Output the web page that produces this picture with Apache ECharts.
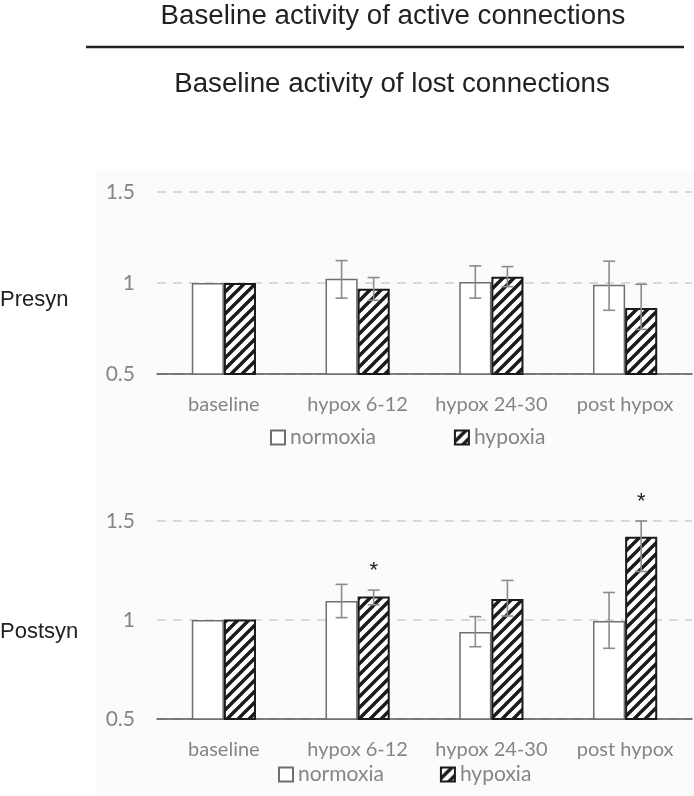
<!DOCTYPE html>
<html>
<head>
<meta charset="utf-8">
<script src="https://cdn.jsdelivr.net/npm/echarts@6/dist/echarts.min.js"></script>
<style>
html,body{margin:0;padding:0;background:#fff;}
#main{width:694px;height:796px;}
</style>
</head>
<body>
<div id="main"></div>
<script>
const categories = ['baseline', 'hypox 6-12', 'hypox 24-30', 'post hypox'];
const yTicks = [0.5, 1, 1.5];

const preNorm = [1, 1.024, 1.005, 0.99];
const preNormLow = [null, 0.917, 0.917, 0.85];
const preNormHigh = [null, 1.123, 1.094, 1.12];
const preHyp = [1, 0.969, 1.035, 0.862];
const preHypLow = [null, 0.905, 0.98, 0.745];
const preHypHigh = [null, 1.03, 1.09, 0.993];

const postNorm = [1, 1.096, 0.94, 0.995];
const postNormLow = [null, 1.012, 0.865, 0.857];
const postNormHigh = [null, 1.18, 1.017, 1.139];
const postHyp = [1.003, 1.119, 1.106, 1.42];
const postHypLow = [null, 1.077, 1.02, 1.245];
const postHypHigh = [null, 1.151, 1.20, 1.50];
const postHypStars = ['', '*', '', '*'];

const seriesNames = ['normoxia', 'hypoxia'];
const titleTop = 'Baseline activity of active connections';
const titleBottom = 'Baseline activity of lost connections';
const rowLabels = ['Presyn', 'Postsyn'];

// hatch pattern
const pc = document.createElement('canvas');
pc.width = 11; pc.height = 11;
const g = pc.getContext('2d');
g.fillStyle = '#ffffff'; g.fillRect(0, 0, 11, 11);
g.strokeStyle = '#1a1a1a'; g.lineWidth = 3.4; g.lineCap = 'square';
g.beginPath();
g.moveTo(-1, 12); g.lineTo(12, -1);
g.moveTo(-3, 3); g.lineTo(3, -3);
g.moveTo(8, 14); g.lineTo(14, 8);
g.stroke();
const hatch = { image: pc, repeat: 'repeat' };

const FONT = 'Lato';
const GRAY = '#858585';
const BARW = 0.24;

function errSeries(idx, lows, highs, side, stars) {
  const data = categories.map((c, i) => [i, lows[i], highs[i], stars ? stars[i] : '']);
  return {
    type: 'custom', xAxisIndex: idx, yAxisIndex: idx, z: 10, silent: true,
    renderItem: function (params, api) {
      const i = api.value(0);
      const lo = api.value(1), hi = api.value(2);
      const band = api.size([1, 0])[0];
      const children = [];
      const cx0 = api.coord([i, 1])[0] + side * band * BARW / 2;
      if (lo != null && !isNaN(lo) && hi != null && !isNaN(hi)) {
        const pLo = api.coord([i, lo]);
        const pHi = api.coord([i, hi]);
        const cap = 6;
        const st = { stroke: '#8c8c8c', lineWidth: 1.6 };
        children.push({ type: 'line', shape: { x1: cx0, y1: pLo[1], x2: cx0, y2: pHi[1] }, style: st });
        children.push({ type: 'line', shape: { x1: cx0 - cap, y1: pLo[1], x2: cx0 + cap, y2: pLo[1] }, style: st });
        children.push({ type: 'line', shape: { x1: cx0 - cap, y1: pHi[1], x2: cx0 + cap, y2: pHi[1] }, style: st });
        const s = data[params.dataIndex][3];
        if (s) {
          children.push({ type: 'text', style: { text: s, x: cx0, y: pHi[1] - 19, align: 'center', verticalAlign: 'middle', font: '22px "Liberation Sans"', fill: '#222' } });
        }
      }
      return { type: 'group', children: children };
    },
    data: data
  };
}

function barPair(idx, norm, hyp) {
  return [
    { name: seriesNames[0], type: 'bar', xAxisIndex: idx, yAxisIndex: idx, data: norm,
      barWidth: (BARW * 100) + '%', barGap: '0%',
      itemStyle: { color: '#ffffff', borderColor: '#6e6e6e', borderWidth: 1.5 } },
    { name: seriesNames[1], type: 'bar', xAxisIndex: idx, yAxisIndex: idx, data: hyp,
      barWidth: (BARW * 100) + '%', barGap: '0%',
      itemStyle: { color: hatch, borderColor: '#1a1a1a', borderWidth: 2 } }
  ];
}

function xAx(idx) {
  return { type: 'category', gridIndex: idx, data: categories,
    axisLine: { lineStyle: { color: '#555', width: 1.5 } }, axisTick: { show: false },
    axisLabel: { color: GRAY, fontFamily: FONT, fontSize: 20, margin: 21, interval: 0, hideOverlap: false } };
}
function yAx(idx) {
  return { type: 'value', gridIndex: idx, min: yTicks[0], max: yTicks[yTicks.length - 1], interval: 0.5,
    axisLine: { show: false }, axisTick: { show: false },
    axisLabel: { color: GRAY, fontFamily: FONT, fontSize: 21, margin: 22 },
    splitLine: { lineStyle: { color: '#d9d9d9', width: 2, type: [9, 7] } } };
}
function legend(top, left, gap) {
  return { top: top, left: left, itemWidth: 14, itemHeight: 14, itemGap: gap, icon: 'rect',
    data: seriesNames, selectedMode: false, padding: 0,
    textStyle: { color: GRAY, fontFamily: FONT, fontSize: 21 } };
}

const chart = echarts.init(document.getElementById('main'), null, { renderer: 'canvas' });
chart.setOption({
  animation: false,
  backgroundColor: '#ffffff',
  graphic: [
    { type: 'rect', z: -10, shape: { x: 95, y: 170, width: 599, height: 626 }, style: { fill: '#fbfbfb' } },
    { type: 'text', style: { text: titleTop, x: 393, y: 16, align: 'center', verticalAlign: 'middle', font: '27.7px "Liberation Sans"', fill: '#222' } },
    { type: 'line', shape: { x1: 86, y1: 47, x2: 684, y2: 47 }, style: { stroke: '#222', lineWidth: 2.5 } },
    { type: 'text', style: { text: titleBottom, x: 392, y: 84, align: 'center', verticalAlign: 'middle', font: '27.7px "Liberation Sans"', fill: '#222' } },
    { type: 'text', style: { text: rowLabels[0], x: 0, y: 300, verticalAlign: 'middle', font: '22px "Liberation Sans"', fill: '#222' } },
    { type: 'text', style: { text: rowLabels[1], x: 0, y: 632, verticalAlign: 'middle', font: '22px "Liberation Sans"', fill: '#222' } }
  ],
  legend: [legend(427, 270, 78), legend(764, 278, 56)],
  grid: [
    { left: 157, right: 2, top: 192, height: 182 },
    { left: 157, right: 2, top: 521, height: 198 }
  ],
  xAxis: [xAx(0), xAx(1)],
  yAxis: [yAx(0), yAx(1)],
  series: [].concat(
    barPair(0, preNorm, preHyp),
    barPair(1, postNorm, postHyp),
    [errSeries(0, preNormLow, preNormHigh, -1, null),
     errSeries(0, preHypLow, preHypHigh, 1, null),
     errSeries(1, postNormLow, postNormHigh, -1, null),
     errSeries(1, postHypLow, postHypHigh, 1, postHypStars)]
  )
});
</script>
</body>
</html>
